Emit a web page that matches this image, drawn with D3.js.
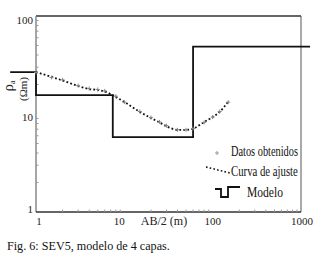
<!DOCTYPE html>
<html><head><meta charset="utf-8">
<script src="https://cdn.jsdelivr.net/npm/d3@7"></script>
<style>body{margin:0;background:#fff}svg{display:block}
text{font-family:"Liberation Serif","DejaVu Serif","Times New Roman",serif}</style>
</head><body>
<script>
// Data
const abHalf = [1, 1.5, 2, 3, 4, 5, 6, 8, 10, 15, 20, 25, 30, 40, 50, 60, 80, 100, 120, 150];
const rhoObserved = [26.5, 23.6, 22.3, 19.5, 18.2, 17.8, 17.2, 15.2, 13.2, 10.6, 9.2, 8.3, 7.6, 6.9, 6.9, 7.1, 8.2, 9.3, 10.6, 13.2];
const rhoFit = [26.8, 23.9, 22.0, 19.3, 18.0, 17.6, 17.0, 14.9, 13.3, 10.5, 9.1, 8.2, 7.5, 6.9, 6.9, 7.1, 8.3, 9.3, 10.5, 13.4];
const modelAB = [0.51, 1, 1, 7.4, 7.4, 60, 60, 1265];
const modelRho = [26.8, 26.8, 15.6, 15.6, 5.8, 5.8, 48.6, 48.6];
const xTicks = [1, 10, 100, 1000];
const yTicks = [1, 10, 100];
const legendLabels = ["Datos obtenidos", "Curva de ajuste", "Modelo"];
const caption = "Fig. 6: SEV5, modelo de 4 capas.";

const W = 320, H = 257;
const svg = d3.select("body").append("svg").attr("width", W).attr("height", H);

const x = d3.scaleLog().domain([1, 1000]).range([36, 301]);
const y = d3.scaleLog().domain([1, 100]).range([212, 16]);

// frame
svg.append("line").attr("x1", 36).attr("x2", 301).attr("y1", 16).attr("y2", 16)
  .attr("stroke", "#666").attr("stroke-width", 2);
svg.append("line").attr("x1", 301).attr("x2", 301).attr("y1", 16).attr("y2", 212)
  .attr("stroke", "#555").attr("stroke-width", 1);
svg.append("line").attr("x1", 36).attr("x2", 36).attr("y1", 16).attr("y2", 212)
  .attr("stroke", "#888").attr("stroke-width", 1.5);
svg.append("line").attr("x1", 36).attr("x2", 301).attr("y1", 212).attr("y2", 212)
  .attr("stroke", "#333").attr("stroke-width", 1.3);

// minor ticks
const minor = [];
[1, 10, 100].forEach(d => { for (let k = 2; k <= 9; k++) minor.push(d * k); });
svg.append("g").selectAll("line").data(minor).join("line")
  .attr("x1", d => x(d)).attr("x2", d => x(d)).attr("y1", 212).attr("y2", 209.5)
  .attr("stroke", "#999").attr("stroke-width", 1);
const minorY = [];
[1, 10].forEach(d => { for (let k = 2; k <= 9; k++) minorY.push(d * k); });
svg.append("g").selectAll("line").data(minorY).join("line")
  .attr("y1", d => y(d)).attr("y2", d => y(d)).attr("x1", 36).attr("x2", 38.5)
  .attr("stroke", "#999").attr("stroke-width", 1);

// tick labels
const xDx = {1: 3, 10: -5, 100: 0, 1000: 1};
svg.append("g").selectAll("text").data(xTicks).join("text")
  .attr("x", d => x(d) + xDx[d]).attr("y", 225).attr("text-anchor", "middle")
  .attr("font-size", 11).attr("fill", "#222")
  .text(d => d);
const yDy = {1: -3, 10: 3, 100: 4};
svg.append("g").selectAll("text").data(yTicks).join("text")
  .attr("x", 33).attr("y", d => y(d) + yDy[d] + 4).attr("text-anchor", "end")
  .attr("font-size", 11).attr("fill", "#222")
  .text(d => d);

// axis titles
svg.append("text").attr("x", 164).attr("y", 225).attr("text-anchor", "middle")
  .attr("font-size", 12).attr("fill", "#222").text("AB/2 (m)");
const rt = svg.append("text").attr("transform", "translate(13,86) rotate(-90)")
  .attr("text-anchor", "middle").attr("font-size", 15).attr("fill", "#222");
rt.append("tspan").text("ρ");
rt.append("tspan").attr("font-size", 8).attr("dy", 2).text("a");
svg.append("text").attr("transform", "translate(27,89) rotate(-90)")
  .attr("text-anchor", "middle").attr("font-size", 11).attr("fill", "#222")
  .text("(Ωm)");

// model
const modelPts = modelAB.map((a, i) => [x(a), y(modelRho[i])]);
svg.append("path").attr("d", d3.line()(modelPts)).attr("fill", "none")
  .attr("stroke", "#111").attr("stroke-width", 1.8);

// fit curve
const fitLine = d3.line().x((d, i) => x(abHalf[i])).y(d => y(d)).curve(d3.curveMonotoneX);
svg.append("path").attr("d", fitLine(rhoFit)).attr("fill", "none")
  .attr("stroke", "#111").attr("stroke-width", 1.8).attr("stroke-dasharray", "1.8,2.2");

// data points (crosses)
const cross = (g, cx, cy, s) => {
  g.append("line").attr("x1", cx - s).attr("x2", cx + s).attr("y1", cy).attr("y2", cy);
  g.append("line").attr("x1", cx).attr("x2", cx).attr("y1", cy - s).attr("y2", cy + s);
};
const gp = svg.append("g").attr("stroke", "#888").attr("stroke-width", 1);
abHalf.forEach((a, i) => cross(gp, x(a), y(rhoObserved[i]), 2));

// legend
const gl = svg.append("g");
const lp = gl.append("g").attr("stroke", "#999").attr("stroke-width", 1);
cross(lp, 217, 153, 2);
gl.append("line").attr("x1", 206).attr("y1", 167).attr("x2", 230).attr("y2", 173)
  .attr("stroke", "#111").attr("stroke-width", 1.6).attr("stroke-dasharray", "1.6,2.2");
gl.append("path").attr("d", d3.line()([[215, 189], [221, 189], [221, 197], [228, 197], [228, 187], [240, 187]]))
  .attr("fill", "none").attr("stroke", "#111").attr("stroke-width", 1.8);
const lx = [231, 231, 247], ly = [156, 176, 197], lw = [67, 67, 36];
gl.selectAll("text").data(legendLabels).join("text")
  .attr("font-size", 14).attr("fill", "#111")
  .text(d => d)
  .each(function(d, i) {
    const nat = this.getComputedTextLength();
    const s = lw[i] / nat;
    d3.select(this).attr("transform", `translate(${lx[i]},${ly[i]}) scale(${s},1)`);
  });

// caption
svg.append("text").attr("x", 7).attr("y", 250)
  .attr("font-size", 12).attr("fill", "#111").text(caption)
  .each(function() {
    const nat = this.getComputedTextLength();
    d3.select(this).attr("x", null).attr("y", null)
      .attr("transform", `translate(7,250) scale(${163 / nat},1)`);
  });
</script>
</body></html>
